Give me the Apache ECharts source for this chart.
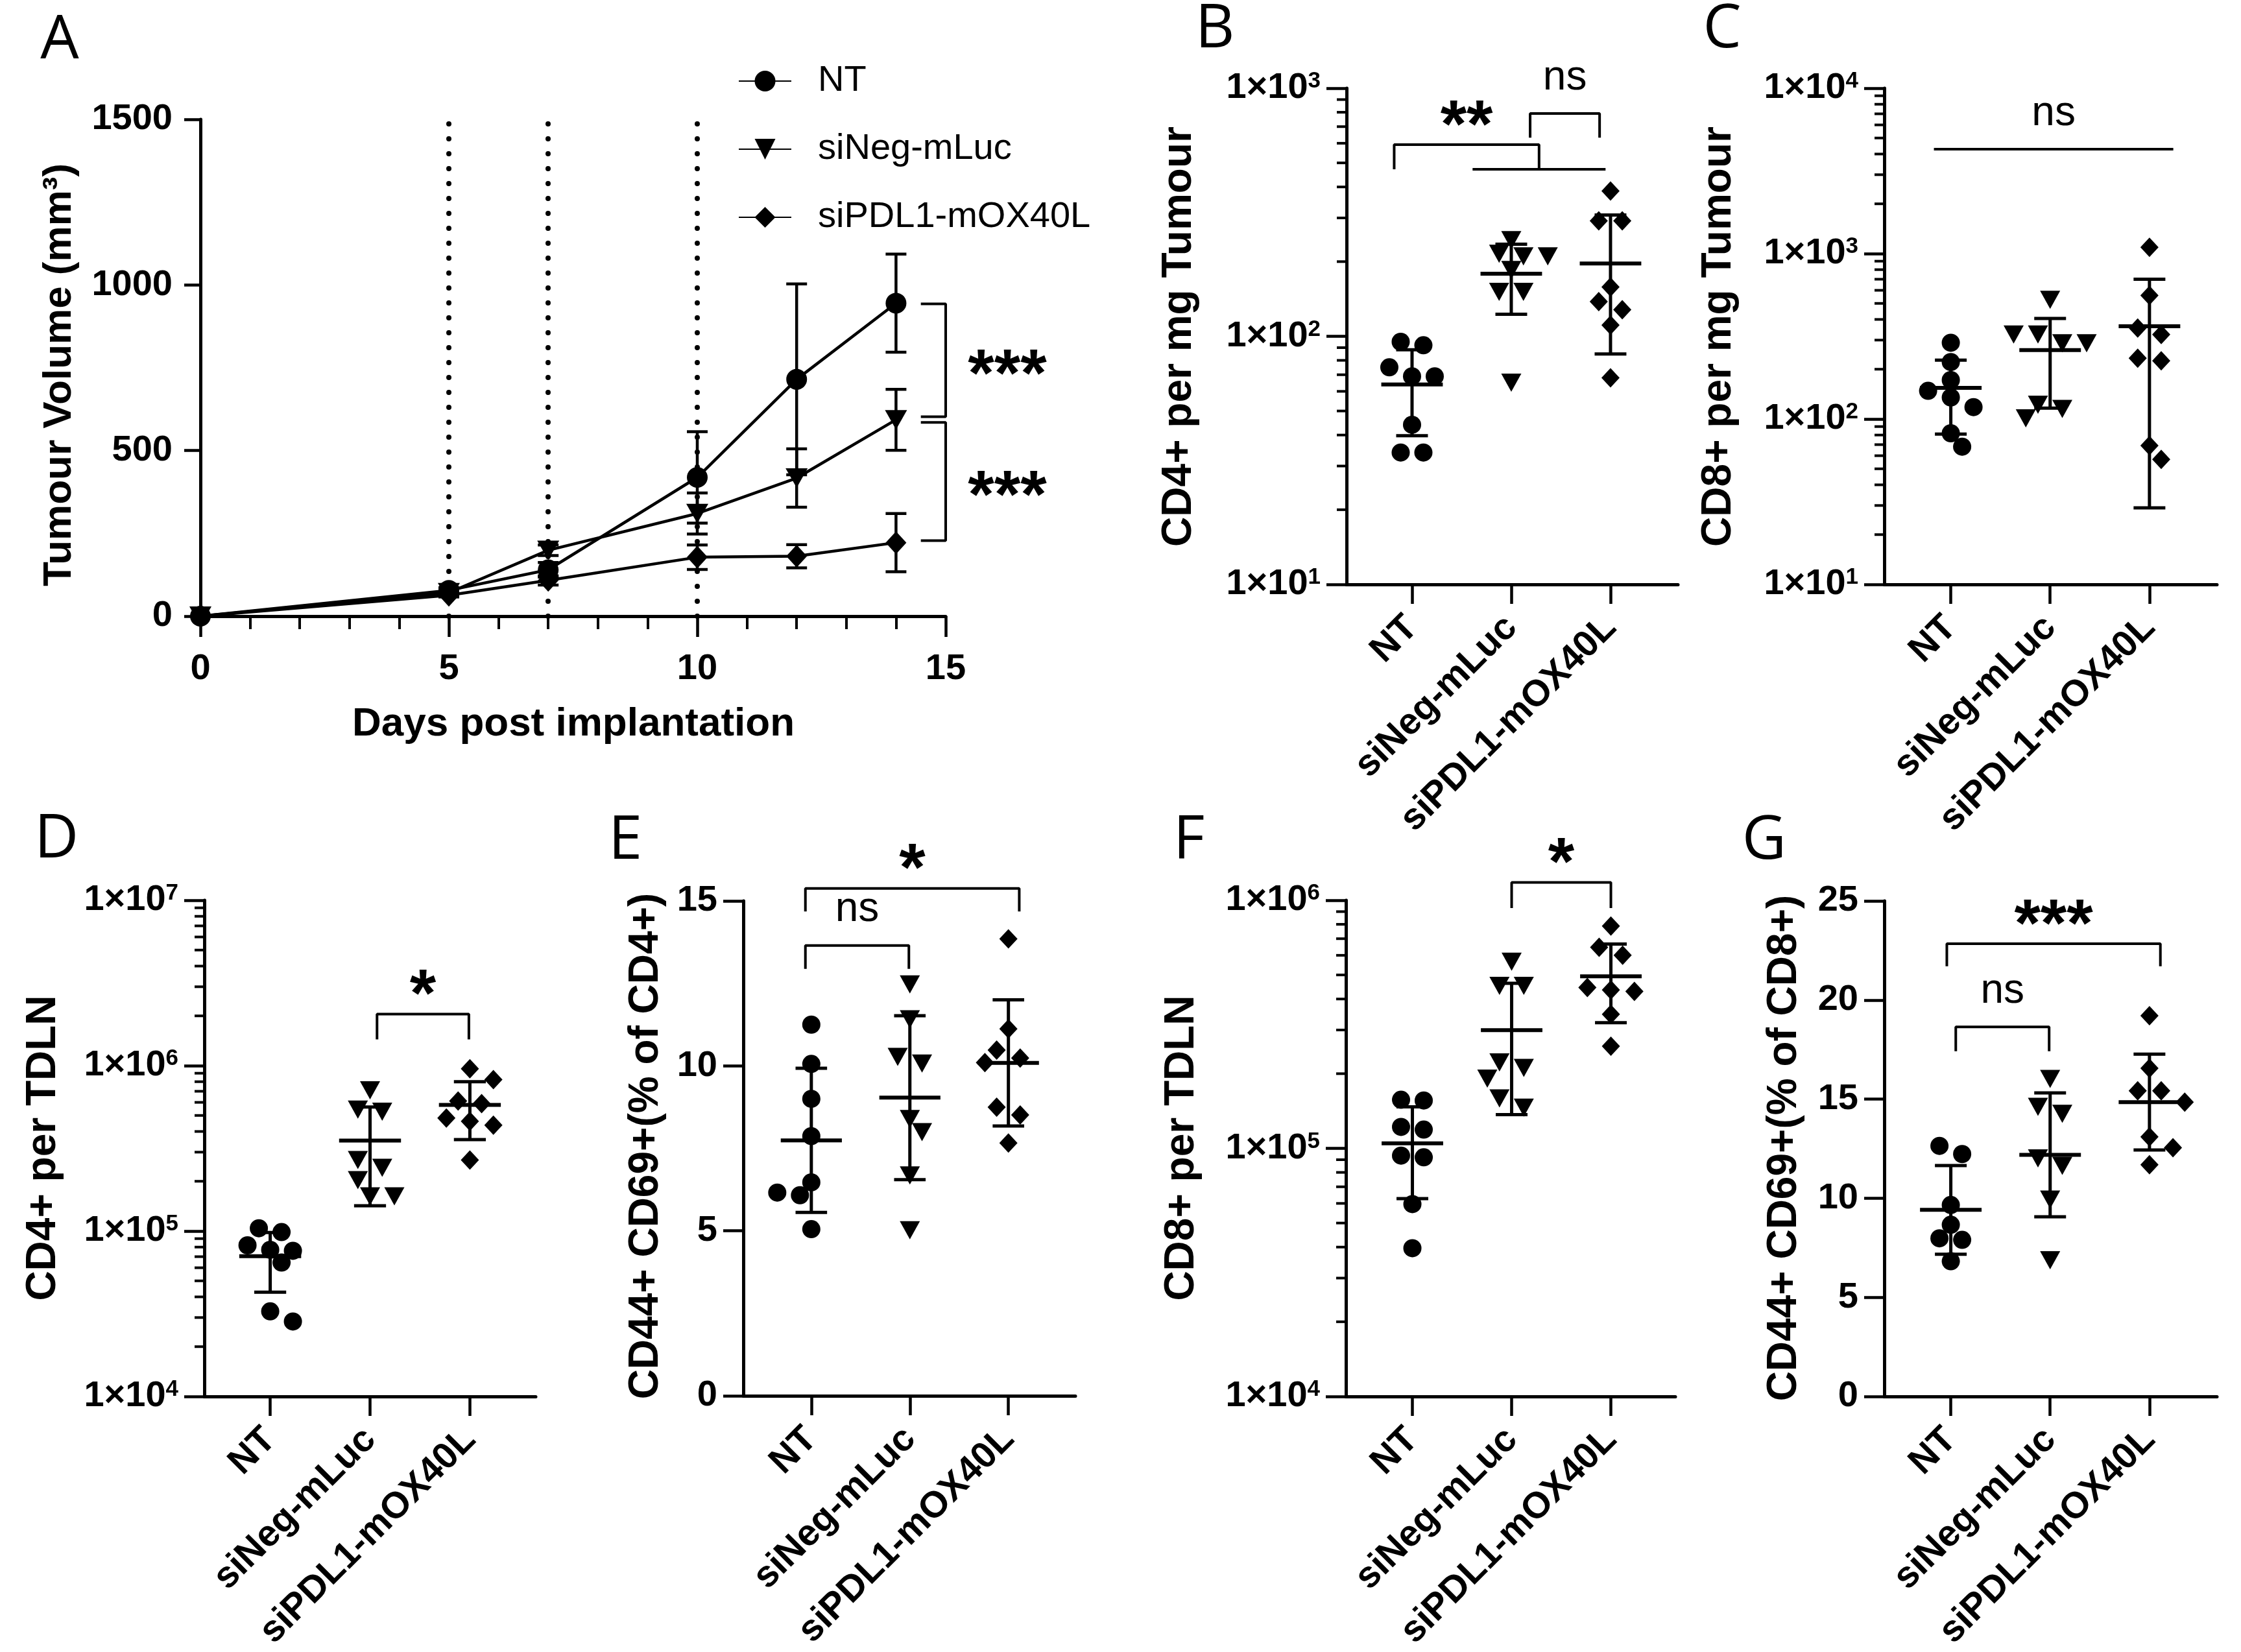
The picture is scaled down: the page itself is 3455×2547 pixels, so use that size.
<!DOCTYPE html>
<html>
<head>
<meta charset="utf-8">
<title>Tumour growth and T-cell panels</title>
<script src="https://cdn.jsdelivr.net/npm/echarts@6.0.0/dist/echarts.min.js"></script>
<style>
html,body{margin:0;padding:0;background:#ffffff;}
#chart{width:3455px;height:2547px;}
</style>
</head>
<body>
<div id="chart"></div>
<script>
// ------------------------------------------------------------------ data
const groupNames = ['NT', 'siNeg-mLuc', 'siPDL1-mOX40L'];

// Panel A : tumour volume (mean ± SD)
const days    = [0, 5, 7, 10, 12, 14];
const ntMean  = [0, 78, 140, 419, 715, 945];
const ntSD    = [0, 8, 22, 138, 288, 148];
const negMean = [0, 71, 199, 310, 417, 593];
const negSD   = [0, 6, 16, 62, 88, 92];
const pdlMean = [0, 63, 108, 178, 181, 222];
const pdlSD   = [0, 5, 14, 37, 35, 88];
const dosingDays = [5, 7, 10];

// Panel B : CD4+ per mg tumour
const bNT  = [95, 92, 75, 69, 69, 44, 34, 34];
const bNeg = [244, 215, 210, 210, 185, 151, 151, 65];
const bPdl = [385, 292, 292, 158, 138, 128, 111, 68];
// Panel C : CD8+ per mg tumour
const cNT  = [289, 221, 172, 148, 135, 118, 82, 68];
const cNeg = [526, 324, 324, 287, 287, 122, 115, 101];
const cPdl = [1091, 559, 355, 324, 233, 225, 69, 57];
// Panel D : CD4+ per TDLN
const dNT  = [104000, 98600, 82000, 77000, 76000, 64500, 32700, 28400];
const dNeg = [710000, 543000, 527000, 269000, 241000, 203000, 162000, 162000];
const dPdl = [957000, 824000, 611000, 589000, 482000, 461000, 437000, 269000];
// Panel E : CD44+ CD69+ (% of CD4+)
const eNT  = [11.25, 10.06, 9.0, 7.87, 6.47, 6.16, 6.08, 5.05];
const eNeg = [12.47, 11.41, 10.27, 10.07, 8.39, 7.99, 6.68, 5.02];
const ePdl = [13.85, 11.12, 10.48, 10.24, 10.1, 8.75, 8.51, 7.66];
// Panel F : CD8+ per TDLN
const fNT  = [157000, 156000, 122000, 119000, 93500, 92000, 59600, 39600];
const fNeg = [565000, 452000, 452000, 222000, 211000, 191000, 159000, 146000];
const fPdl = [787000, 646000, 600000, 445000, 435000, 429000, 347000, 258000];
// Panel G : CD44+ CD69+ (% of CD8+)
const gNT  = [12.64, 12.23, 9.66, 8.66, 7.98, 7.90, 6.82];
const gNeg = [16.02, 14.61, 14.26, 12.01, 11.63, 9.93, 6.87];
const gPdl = [19.21, 16.56, 15.42, 15.42, 14.85, 13.10, 12.55, 11.69];

// Significance annotations (x in group units / days, y in data units)
const sigA = [
  {x1: 14.5, x2: 15.0, yTop: 943, yBot: 602, text: '***'},
  {x1: 14.5, x2: 15.0, yTop: 585, yBot: 228, text: '***'}
];
const sigB = [
  {x1: -0.18, x2: 1.28, y: 592, leg: 471, text: '**'},
  {x1: 1.19, x2: 1.89, y: 791, leg: 632, text: 'ns'}
];
const sigBJoin = [{x1: 0.61, x2: 1.95, y: 471}];
const sigC = [{x1: -0.17, x2: 2.24, y: 4276, leg: 4276, text: 'ns'}];
const sigD = [{x1: 1.07, x2: 1.99, y: 2.05e6, leg: 1.44e6, text: '*'}];
const sigE = [
  {x1: -0.06, x2: 2.11, y: 15.38, leg: 14.68, text: '*'},
  {x1: -0.06, x2: 0.99, y: 13.65, leg: 12.94, text: 'ns'}
];
const sigF = [{x1: 1.0, x2: 2.0, y: 1.18e6, leg: 9.3e5, text: '*'}];
const sigG = [
  {x1: -0.04, x2: 2.11, y: 22.84, leg: 21.7, text: '***'},
  {x1: 0.05, x2: 0.99, y: 18.64, leg: 17.42, text: 'ns'}
];

// ------------------------------------------------------------------ styling
const BLACK = '#000000';
const FONT = '"Liberation Sans", Arial, Helvetica, sans-serif';
const LETTER_FONT = '400 94px "Open Sans", "Noto Sans", sans-serif';
const TITLE_FONT = 'bold 64px "Liberation Sans", Arial, sans-serif';
const TITLE_FONT_A = 'bold 62px "Liberation Sans", Arial, sans-serif';
const STAR_FONT = 'bold 104px "Liberation Sans", Arial, sans-serif';
const NS_FONT = '64px "Liberation Sans", Arial, sans-serif';
const STAR_SIZE = 104;
const TRI = 'path://M0,0L20,0L10,18Z';

const chart = echarts.init(document.getElementById('chart'), null, {renderer: 'canvas', width: 3455, height: 2547});

const grids = [], xAxes = [], yAxes = [], series = [], graphics = [];
const swarmJobs = [], sigLabels = [];

function gtext(text, x, y, font, rot) {
  return {type: 'text', x: x, y: y, rotation: rot || 0, silent: true, z: 100,
    style: {text: text, font: font, fill: BLACK, textAlign: 'center', textVerticalAlign: 'middle',
            align: 'center', verticalAlign: 'middle'}};
}
function labelStyleBold(size) {
  return {fontSize: size, fontWeight: 'bold', fontFamily: FONT, color: BLACK};
}
function meanSd(arr) {
  const n = arr.length;
  const m = arr.reduce((a, b) => a + b, 0) / n;
  const s = Math.sqrt(arr.reduce((a, b) => a + (b - m) * (b - m), 0) / (n - 1));
  return [m, s];
}
function lineSeries(xi, yi, pts, width) {
  return {type: 'line', xAxisIndex: xi, yAxisIndex: yi, data: pts, symbol: 'none', silent: true,
    clip: false, lineStyle: {color: BLACK, width: width || 4.5}, z: 6, animation: false};
}
function starAdj(text) { return text.indexOf('*') >= 0 ? Math.round(0.26 * STAR_SIZE) : -3; }

// ------------------------------------------------------------------ panel A
grids.push({left: 309, top: 184, width: 1149, height: 766, containLabel: false, outerBoundsMode: 'none'});
xAxes.push({gridIndex: 0, type: 'value', min: 0, max: 15, interval: 5,
  axisLine: {show: true, onZero: false, lineStyle: {color: BLACK, width: 5}},
  axisTick: {show: true, length: 32, lineStyle: {color: BLACK, width: 4.5}},
  minorTick: {show: true, splitNumber: 5, length: 20, lineStyle: {color: BLACK, width: 4}},
  axisLabel: Object.assign({show: true, margin: 54, formatter: v => String(v)}, labelStyleBold(56)),
  splitLine: {show: false}, minorSplitLine: {show: false}});
yAxes.push({gridIndex: 0, type: 'value', min: 0, max: 1500, interval: 500,
  axisLine: {show: true, onZero: false, lineStyle: {color: BLACK, width: 5}},
  axisTick: {show: true, length: 25, lineStyle: {color: BLACK, width: 4.5}},
  axisLabel: Object.assign({show: true, margin: 43, formatter: v => String(v)}, labelStyleBold(56)),
  splitLine: {show: false}});

function errRenderA(params, api) {
  const x = api.value(0), m = api.value(1), sd = api.value(2);
  if (!(sd > 0)) return {type: 'group', children: []};
  const t = api.coord([x, m + sd]), b = api.coord([x, m - sd]);
  const hw = 16;
  const st = {stroke: BLACK, lineWidth: 4.5};
  return {type: 'group', children: [
    {type: 'line', shape: {x1: t[0], y1: t[1], x2: b[0], y2: b[1]}, style: st},
    {type: 'line', shape: {x1: t[0] - hw, y1: t[1], x2: t[0] + hw, y2: t[1]}, style: st},
    {type: 'line', shape: {x1: b[0] - hw, y1: b[1], x2: b[0] + hw, y2: b[1]}, style: st}
  ]};
}
const aDefs = [
  {name: groupNames[0], mean: ntMean, sd: ntSD, symbol: 'circle', size: 32},
  {name: groupNames[1], mean: negMean, sd: negSD, symbol: TRI, size: [34, 30]},
  {name: groupNames[2], mean: pdlMean, sd: pdlSD, symbol: 'diamond', size: [32, 35]}
];
aDefs.forEach((s, k) => {
  const ser = {type: 'line', name: s.name, xAxisIndex: 0, yAxisIndex: 0,
    data: days.map((d, i) => [d, s.mean[i]]),
    symbol: s.symbol, symbolSize: s.size, showAllSymbol: true, clip: false,
    itemStyle: {color: BLACK}, lineStyle: {color: BLACK, width: 4.5}, z: 5};
  if (k === 0) {
    ser.markLine = {silent: true, symbol: ['none', 'none'], label: {show: false}, animation: false,
      lineStyle: {color: BLACK, width: 8, type: [0.1, 22.9], cap: 'round'},
      data: dosingDays.map(d => ({xAxis: d}))};
  }
  series.push(ser);
  series.push({type: 'custom', name: s.name + ' SD', xAxisIndex: 0, yAxisIndex: 0,
    data: days.map((d, i) => [d, s.mean[i], s.sd[i]]), encode: {x: 0, y: 1},
    renderItem: errRenderA, z: 4, silent: true});
});
sigA.forEach(b => {
  series.push(lineSeries(0, 0, [[b.x1, b.yTop], [b.x2, b.yTop], [b.x2, b.yBot], [b.x1, b.yBot]], 4));
  sigLabels.push({xi: 0, yi: 0, pt: [b.x2, (b.yTop + b.yBot) / 2], text: b.text, dx: 95, dy: starAdj(b.text)});
});
graphics.push(gtext('A', 92, 63, LETTER_FONT));
graphics.push(gtext('Tumour Volume (mm³)', 92, 578, TITLE_FONT_A, Math.PI / 2));
graphics.push(gtext('Days post implantation', 884, 1117, TITLE_FONT_A));

// ------------------------------------------------------------------ scatter panels
const symbols = ['circle', TRI, 'diamond'];
const symSizes = [28, [31, 28], [28, 30]];
const symDiam = [28, 30, 29];

function logMinors(lo, hi) {
  const out = [];
  for (let e = Math.round(Math.log10(lo)); e < Math.round(Math.log10(hi)); e++) {
    for (let k = 2; k <= 9; k++) out.push(k * Math.pow(10, e));
  }
  return out;
}
function logMajors(lo, hi) {
  const out = [];
  for (let e = Math.round(Math.log10(lo)); e <= Math.round(Math.log10(hi)); e++) out.push(Math.pow(10, e));
  return out;
}

const panels = [
  {letter: 'B', lx: 1873, ly: 46, grid: {left: 2076, top: 136, width: 511, height: 765}, xr: [-0.66, 2.68],
   log: true, yr: [10, 1000], vals: [bNT, bNeg, bPdl], title: 'CD4+ per mg Tumour', tx: 1818, ty: 519,
   sig: sigB, join: sigBJoin},
  {letter: 'C', lx: 2655, ly: 46, grid: {left: 2905, top: 136, width: 513, height: 765}, xr: [-0.67, 2.68],
   log: true, yr: [10, 10000], vals: [cNT, cNeg, cPdl], title: 'CD8+ per mg Tumour', tx: 2650, ty: 519,
   sig: sigC, join: []},
  {letter: 'D', lx: 87, ly: 1295, grid: {left: 315, top: 1388, width: 511, height: 765}, xr: [-0.66, 2.66],
   log: true, yr: [1e4, 1e7], vals: [dNT, dNeg, dPdl], title: 'CD4+ per TDLN', tx: 67, ty: 1770,
   sig: sigD, join: []},
  {letter: 'E', lx: 964, ly: 1297, grid: {left: 1146, top: 1389, width: 512, height: 763}, xr: [-0.69, 2.68],
   log: false, yr: [0, 15], step: 5, vals: [eNT, eNeg, ePdl], title: 'CD44+ CD69+(% of CD4+)', tx: 996, ty: 1767,
   sig: sigE, join: []},
  {letter: 'F', lx: 1833, ly: 1297, grid: {left: 2075, top: 1388, width: 508, height: 765}, xr: [-0.67, 2.65],
   log: true, yr: [1e4, 1e6], vals: [fNT, fNeg, fPdl], title: 'CD8+ per TDLN', tx: 1822, ty: 1770,
   sig: sigF, join: []},
  {letter: 'G', lx: 2720, ly: 1297, grid: {left: 2905, top: 1389, width: 513, height: 764}, xr: [-0.67, 2.68],
   log: false, yr: [0, 25], step: 5, vals: [gNT, gNeg, gPdl], title: 'CD44+ CD69+(% of CD8+)', tx: 2751, ty: 1770,
   sig: sigG, join: []}
];

function meanSdRender(params, api) {
  const gi = api.value(0), m = api.value(1), sd = api.value(2);
  const p = (x, y) => api.coord([x, y]);
  const ml = p(gi - 0.31, m), mr = p(gi + 0.31, m);
  const t = p(gi, m + sd), b = p(gi, m - sd);
  const ctl = p(gi - 0.16, m + sd), ctr = p(gi + 0.16, m + sd);
  const cbl = p(gi - 0.16, m - sd), cbr = p(gi + 0.16, m - sd);
  const st = {stroke: BLACK, lineWidth: 5};
  return {type: 'group', children: [
    {type: 'line', shape: {x1: ml[0], y1: ml[1], x2: mr[0], y2: mr[1]}, style: {stroke: BLACK, lineWidth: 6}},
    {type: 'line', shape: {x1: t[0], y1: t[1], x2: b[0], y2: b[1]}, style: st},
    {type: 'line', shape: {x1: ctl[0], y1: ctl[1], x2: ctr[0], y2: ctr[1]}, style: st},
    {type: 'line', shape: {x1: cbl[0], y1: cbl[1], x2: cbr[0], y2: cbr[1]}, style: st}
  ]};
}
// minor log ticks (2..9 × 10^n) drawn at the y axis through the axis scale
function minorTickRender(params, api) {
  const p = api.coord([api.value(0), api.value(1)]);
  return {type: 'line', shape: {x1: p[0] - 15, y1: p[1], x2: p[0], y2: p[1]},
          style: {stroke: BLACK, lineWidth: 4}};
}

panels.forEach(pn => {
  const gi = grids.length;
  grids.push(Object.assign({containLabel: false, outerBoundsMode: 'none'}, pn.grid));
  const xi = xAxes.length;
  xAxes.push({gridIndex: gi, type: 'value', min: pn.xr[0], max: pn.xr[1], position: 'bottom',
    axisLine: {show: true, onZero: false, lineStyle: {color: BLACK, width: 5}},
    axisTick: {show: true, customValues: [0, 1, 2], length: 30, lineStyle: {color: BLACK, width: 4.5}},
    axisLabel: Object.assign({show: true, customValues: [0, 1, 2], rotate: 45, margin: 58,
      formatter: v => groupNames[Math.round(v)] || ''}, labelStyleBold(57)),
    splitLine: {show: false}});
  const yi = yAxes.length;
  if (pn.log) {
    const majors = logMajors(pn.yr[0], pn.yr[1]);
    yAxes.push({gridIndex: gi, type: 'log', logBase: 10, min: pn.yr[0], max: pn.yr[1], position: 'left',
      axisLine: {show: true, onZero: false, lineStyle: {color: BLACK, width: 5}},
      axisTick: {show: true, customValues: majors, length: 31, lineStyle: {color: BLACK, width: 4.5}},
      axisLabel: {show: true, customValues: majors, margin: 40,
        formatter: v => '{b|1×10}{s|' + Math.round(Math.log10(v)) + '}',
        rich: {b: labelStyleBold(56), s: Object.assign({verticalAlign: 'top'}, labelStyleBold(35))}},
      splitLine: {show: false}, minorTick: {show: false}});
    series.push({type: 'custom', name: pn.letter + '-minorTicks', xAxisIndex: xi, yAxisIndex: yi,
      data: logMinors(pn.yr[0], pn.yr[1]).map(v => [pn.xr[0], v]), encode: {x: 0, y: 1},
      renderItem: minorTickRender, clip: false, silent: true, z: 2});
  } else {
    yAxes.push({gridIndex: gi, type: 'value', min: pn.yr[0], max: pn.yr[1], interval: pn.step, position: 'left',
      axisLine: {show: true, onZero: false, lineStyle: {color: BLACK, width: 5}},
      axisTick: {show: true, length: 31, lineStyle: {color: BLACK, width: 4.5}},
      axisLabel: Object.assign({show: true, margin: 40}, labelStyleBold(56)),
      splitLine: {show: false}});
  }
  // points
  pn.vals.forEach((arr, g) => {
    const si = series.length;
    series.push({type: 'scatter', name: pn.letter + '-' + groupNames[g], xAxisIndex: xi, yAxisIndex: yi,
      data: arr.map(v => [g, v]), symbol: symbols[g], symbolSize: symSizes[g], clip: false,
      itemStyle: {color: BLACK, opacity: 1}, z: 3, silent: true});
    swarmJobs.push({si: si, xi: xi, yi: yi, g: g, values: arr, d: symDiam[g]});
  });
  // mean ± SD
  series.push({type: 'custom', name: pn.letter + '-meanSD', xAxisIndex: xi, yAxisIndex: yi,
    data: pn.vals.map((arr, g) => { const ms = meanSd(arr); return [g, ms[0], ms[1]]; }),
    encode: {x: 0, y: 1}, renderItem: meanSdRender, z: 4, silent: true});
  // significance
  pn.sig.forEach(b => {
    series.push(lineSeries(xi, yi, [[b.x1, b.leg], [b.x1, b.y], [b.x2, b.y], [b.x2, b.leg]], 4));
    sigLabels.push({xi: xi, yi: yi, pt: [(b.x1 + b.x2) / 2, b.y], text: b.text, dx: 0, dy: -52 + starAdj(b.text)});
  });
  pn.join.forEach(j => series.push(lineSeries(xi, yi, [[j.x1, j.y], [j.x2, j.y]], 4)));
  graphics.push(gtext(pn.letter, pn.lx, pn.ly, LETTER_FONT));
  graphics.push(gtext(pn.title, pn.tx, pn.ty, TITLE_FONT, Math.PI / 2));
});

const option = {
  animation: false,
  backgroundColor: '#ffffff',
  grid: grids,
  xAxis: xAxes,
  yAxis: yAxes,
  legend: {
    data: groupNames, orient: 'vertical', left: 1133, top: 90,
    itemWidth: 81, itemHeight: 40, itemGap: 45, selectedMode: false,
    textStyle: {fontFamily: FONT, fontSize: 56, color: BLACK, lineHeight: 60, padding: [0, 0, 0, 36]}
  },
  series: series,
  graphic: graphics
};
chart.setOption(option);

// --------------------------------------------------- horizontal spread of points (beeswarm)
function swarm(pys, d, sp) {
  const order = pys.map((py, i) => i).sort((a, b) => pys[a] - pys[b]);
  const rows = [];
  order.forEach(i => {
    const r = rows[rows.length - 1];
    if (r && Math.abs(pys[i] - pys[r[0]]) < 0.55 * d) r.push(i); else rows.push([i]);
  });
  const off = new Array(pys.length).fill(0);
  const placed = [];
  rows.forEach(r => {
    const n = r.length;
    const base = r.map((_, k) => (k - (n - 1) / 2) * sp);
    const shifts = [0, sp / 2, -sp / 2, sp, -sp, 1.5 * sp, -1.5 * sp];
    let chosen = 0;
    for (const s of shifts) {
      const ok = r.every((idx, k) => placed.every(q => Math.hypot(base[k] + s - q.x, pys[idx] - q.y) >= 0.9 * d));
      if (ok) { chosen = s; break; }
    }
    r.forEach((idx, k) => { off[idx] = base[k] + chosen; placed.push({x: off[idx], y: pys[idx]}); });
  });
  return off;
}
swarmJobs.forEach(job => {
  const finder = {xAxisIndex: job.xi, yAxisIndex: job.yi};
  const a = chart.convertToPixel(finder, [0, job.values[0]]);
  const b = chart.convertToPixel(finder, [1, job.values[0]]);
  const catPx = b[0] - a[0];
  const pys = job.values.map(v => chart.convertToPixel(finder, [job.g, v])[1]);
  const offs = swarm(pys, job.d, job.d * 1.25);
  option.series[job.si].data = job.values.map((v, i) => [job.g + offs[i] / catPx, v]);
});
// significance text placed through the axes' scales
sigLabels.forEach(s => {
  const p = chart.convertToPixel({xAxisIndex: s.xi, yAxisIndex: s.yi}, s.pt);
  const star = s.text.indexOf('*') >= 0;
  option.graphic.push(gtext(s.text, p[0] + s.dx, p[1] + s.dy, star ? STAR_FONT : NS_FONT));
});
chart.setOption(option, true);
</script>
</body>
</html>
